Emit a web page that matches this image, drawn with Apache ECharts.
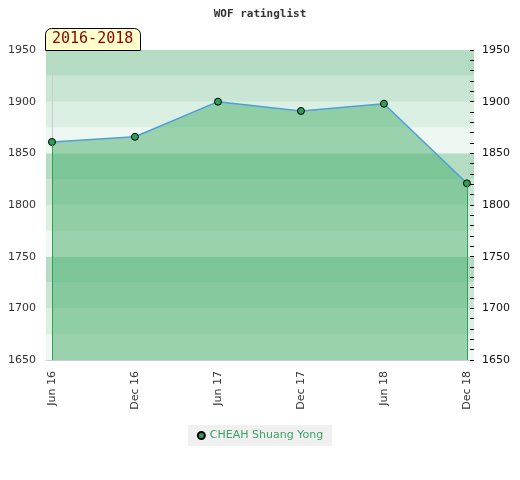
<!DOCTYPE html>
<html>
<head>
<meta charset="utf-8">
<script src="https://cdn.jsdelivr.net/npm/echarts@6/dist/echarts.min.js"></script>
<style>
  html, body { margin: 0; padding: 0; background: #fff; }
  #chart { width: 520px; height: 480px; }
</style>
</head>
<body>
<div id="chart"></div>
<script>
// half-year rating snapshots
var periods = ['Jun 16', 'Dec 16', 'Jun 17', 'Dec 17', 'Jun 18', 'Dec 18'];
var ratings = [1861, 1866, 1900, 1891, 1898, 1821];
var playerName = 'CHEAH Shuang Yong';
var rangeLabel = '2016-2018';
var yTicks = [1650, 1700, 1750, 1800, 1850, 1900, 1950];

var bandColors = ['#eef7f1', '#dcefe3', '#c9e5d3', '#b3dcc2'];
var green = '#2e9e5a';

var points = ratings.map(function (v, i) { return [i, v]; });
var last = points.length - 1;

function plain(v) { return String(v); }

var chart = echarts.init(document.getElementById('chart'));
chart.setOption({
    animation: false,
    title: [{
        text: 'WOF ratinglist',
        left: 'center',
        top: 4,
        textStyle: { fontFamily: 'DejaVu Sans Mono', fontSize: 11, fontWeight: 'bold', color: '#333' }
    }, {
        text: rangeLabel,
        left: 45,
        top: 28,
        padding: [4, 7, 4, 7],
        backgroundColor: '#ffffcc',
        borderColor: '#000',
        borderWidth: 1,
        borderRadius: [6, 6, 0, 0],
        textStyle: { fontFamily: 'DejaVu Sans Mono', fontSize: 15, fontWeight: 'normal', color: '#8b0000' }
    }],
    legend: {
        bottom: 34,
        left: 'center',
        icon: 'circle',
        itemWidth: 7,
        itemHeight: 7,
        itemGap: 10,
        padding: [5, 9],
        backgroundColor: '#f0f0f0',
        textStyle: { color: '#3aa463', fontSize: 11, fontFamily: 'DejaVu Sans' },
        data: [playerName]
    },
    grid: { left: 46, right: 46, top: 50, bottom: 120, outerBoundsMode: 'none', containLabel: false },
    xAxis: {
        type: 'value',
        min: -0.072,
        max: 5.085,
        splitLine: { show: false },
        axisLine: { lineStyle: { color: '#ccc' } },
        axisTick: { show: false },
        axisLabel: {
            customValues: periods.map(function (p, i) { return i; }),
            formatter: function (v) { return periods[Math.round(v)]; },
            rotate: 90,
            color: '#333',
            fontSize: 11,
            fontFamily: 'DejaVu Sans',
            margin: 11
        }
    },
    yAxis: [{
        type: 'value',
        min: yTicks[0],
        max: yTicks[yTicks.length - 1],
        interval: 50,
        position: 'left',
        axisLine: { show: true, lineStyle: { color: '#ccc' } },
        axisTick: { show: false },
        splitLine: { show: false },
        axisLabel: { formatter: plain, color: '#333', fontSize: 11, fontFamily: 'DejaVu Sans', margin: 10 }
    }, {
        type: 'value',
        min: yTicks[0],
        max: yTicks[yTicks.length - 1],
        interval: 50,
        position: 'right',
        axisLine: { show: false },
        axisTick: { show: true, inside: true, length: 4, lineStyle: { color: '#000' } },
        minorTick: { show: true, splitNumber: 5, length: 4, lineStyle: { color: '#000' } },
        splitLine: { show: false },
        axisLabel: { formatter: plain, color: '#111', fontSize: 11, fontFamily: 'DejaVu Sans', margin: 8 }
    }, {
        type: 'value',
        min: yTicks[0],
        max: yTicks[yTicks.length - 1],
        interval: 25,
        position: 'left',
        axisLine: { show: false },
        axisTick: { show: false },
        axisLabel: { show: false },
        splitLine: { show: false },
        splitArea: { show: true, areaStyle: { color: bandColors } }
    }],
    series: [{
        name: playerName,
        type: 'line',
        data: points,
        symbol: 'circle',
        symbolSize: 7,
        lineStyle: { color: '#4f9fd9', width: 1.5 },
        itemStyle: { color: green, borderColor: '#000', borderWidth: 1 },
        areaStyle: { color: 'rgb(67,174,106)', opacity: 0.5, origin: 'start' },
        markLine: {
            silent: true,
            symbol: 'none',
            label: { show: false },
            lineStyle: { color: green, width: 1, type: 'solid' },
            data: [
                [{ coord: [0, yTicks[0]] }, { coord: [0, ratings[0]] }],
                [{ coord: [last, yTicks[0]] }, { coord: [last, ratings[last]] }]
            ]
        }
    }]
});
</script>
</body>
</html>
